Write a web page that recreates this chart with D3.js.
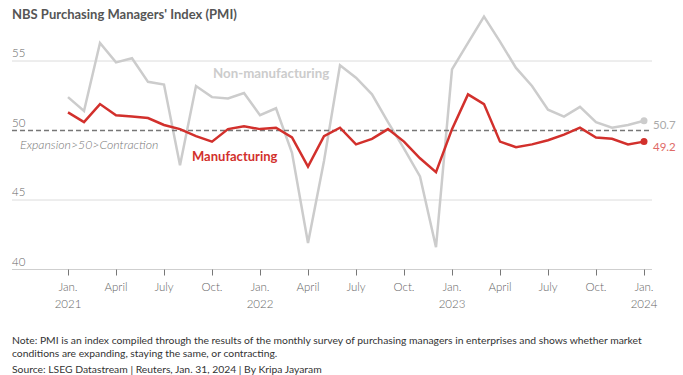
<!DOCTYPE html>
<html>
<head>
<meta charset="utf-8">
<script src="https://cdn.jsdelivr.net/npm/d3@7"></script>
<style>
  html, body { margin: 0; padding: 0; background: #fff; }
  svg { display: block; font-family: "Lato", "Noto Sans", sans-serif; }
</style>
</head>
<body>
<svg id="chart" width="683" height="375"></svg>
<script>
// ---- Data (monthly, Jan 2021 .. Jan 2024) ----
const months = [
  "2021-01","2021-02","2021-03","2021-04","2021-05","2021-06","2021-07","2021-08","2021-09","2021-10","2021-11","2021-12",
  "2022-01","2022-02","2022-03","2022-04","2022-05","2022-06","2022-07","2022-08","2022-09","2022-10","2022-11","2022-12",
  "2023-01","2023-02","2023-03","2023-04","2023-05","2023-06","2023-07","2023-08","2023-09","2023-10","2023-11","2023-12",
  "2024-01"
];
const manufacturing = [
  51.3,50.6,51.9,51.1,51.0,50.9,50.4,50.1,49.6,49.2,50.1,50.3,
  50.1,50.2,49.5,47.4,49.6,50.2,49.0,49.4,50.1,49.2,48.0,47.0,
  50.1,52.6,51.9,49.2,48.8,49.0,49.3,49.7,50.2,49.5,49.4,49.0,
  49.2
];
const nonManufacturing = [
  52.4,51.4,56.3,54.9,55.2,53.5,53.3,47.5,53.2,52.4,52.3,52.7,
  51.1,51.6,48.4,41.9,47.8,54.7,53.8,52.6,50.6,48.7,46.7,41.6,
  54.4,56.3,58.2,56.4,54.5,53.2,51.5,51.0,51.7,50.6,50.2,50.4,
  50.7
];
const yTicks = [40, 45, 50, 55];
const xTickIndex = [0,3,6,9,12,15,18,21,24,27,30,33,36];
const xTickMonth = ["Jan.","April","July","Oct.","Jan.","April","July","Oct.","Jan.","April","July","Oct.","Jan."];
const xTickYear  = ["2021","","","","2022","","","","2023","","","","2024"];

const title = "NBS Purchasing Managers' Index (PMI)";
const noteLines = [
  "Note: PMI is an index compiled through the results of the monthly survey of purchasing managers in enterprises and shows whether market",
  "conditions are expanding, staying the same, or contracting."
];
const sourceLine = "Source: LSEG Datastream | Reuters, Jan. 31, 2024 | By Kripa Jayaram";

// ---- Layout ----
const svg = d3.select("#chart");
const RED = "#d2302c", GREY = "#cccccc";
const gridLeft = 12, gridRight = 652;

const x = d3.scaleLinear().domain([0, 36]).range([68, 644]);
const y = d3.scaleLinear().domain([40, 55]).range([269.5, 61]);

// title
svg.append("text").attr("x", 12).attr("y", 19)
  .attr("font-size", 13).attr("font-weight", 700).attr("fill", "#555")
  .text(title);

// gridlines (not 50)
svg.append("g").selectAll("line").data(yTicks.filter(d => d !== 50)).join("line")
  .attr("x1", gridLeft).attr("x2", gridRight)
  .attr("y1", d => y(d)).attr("y2", d => y(d))
  .attr("stroke", d => d === 40 ? "#cfcfcf" : "#dcdcdc").attr("stroke-width", 1);

// y labels
svg.append("g").selectAll("text").data(yTicks).join("text")
  .attr("x", 12).attr("y", d => y(d) - 4)
  .attr("font-size", 11.5).attr("fill", "#666").attr("font-weight", 300)
  .text(d => d);

// x axis
const xAxis = d3.axisBottom(x).tickValues(xTickIndex).tickSize(6).tickFormat("");
const gx = svg.append("g").attr("transform", `translate(0,${y(40)})`).call(xAxis);
gx.select(".domain").remove();
gx.selectAll(".tick line").attr("stroke", "#777");
const tl = svg.append("g").selectAll("g").data(xTickIndex).join("g")
  .attr("transform", d => `translate(${x(d)},0)`);
tl.append("text").attr("y", 291).attr("text-anchor", "middle")
  .attr("font-size", 11.5).attr("fill", "#666").attr("font-weight", 300)
  .text((d, i) => xTickMonth[i]);
tl.append("text").attr("y", 308).attr("text-anchor", "middle")
  .attr("font-size", 11.5).attr("fill", "#666").attr("font-weight", 300)
  .text((d, i) => xTickYear[i]);

// lines
const line = d3.line().x((d, i) => x(i)).y(d => y(d));
svg.append("path").datum(nonManufacturing).attr("d", line)
  .attr("fill", "none").attr("stroke", GREY).attr("stroke-width", 2.5)
  .attr("stroke-linejoin", "miter");

// dashed 50 line
svg.append("line").attr("x1", gridLeft).attr("x2", gridRight)
  .attr("y1", y(50)).attr("y2", y(50))
  .attr("stroke", "#777").attr("stroke-width", 1.5).attr("stroke-dasharray", "5,3");

svg.append("path").datum(manufacturing).attr("d", line)
  .attr("fill", "none").attr("stroke", RED).attr("stroke-width", 2.5)
  .attr("stroke-linejoin", "miter");

// end dots
const last = manufacturing.length - 1;
svg.append("circle").attr("cx", x(last)).attr("cy", y(nonManufacturing[last])).attr("r", 3.5).attr("fill", GREY);
svg.append("circle").attr("cx", x(last)).attr("cy", y(manufacturing[last])).attr("r", 3.5).attr("fill", RED);
svg.append("text").attr("x", 653).attr("y", y(nonManufacturing[last]) + 8)
  .attr("font-size", 11.5).attr("fill", "#aaa").text(nonManufacturing[last].toFixed(1));
svg.append("text").attr("x", 653).attr("y", y(manufacturing[last]) + 9.5)
  .attr("font-size", 11.5).attr("fill", "#e06a66").text(manufacturing[last].toFixed(1));

// series labels
svg.append("text").attr("x", 213).attr("y", 78)
  .attr("font-size", 13.3).attr("font-weight", 700).attr("fill", "#cccccc").text("Non-manufacturing");
svg.append("text").attr("x", 192).attr("y", 161)
  .attr("font-size", 13).attr("font-weight", 700).attr("fill", RED).text("Manufacturing");
svg.append("text").attr("x", 20).attr("y", 149)
  .attr("font-size", 12.3).attr("font-style", "italic").attr("font-weight", 300).attr("fill", "#777")
  .text("Expansion>50>Contraction");

// notes
const notes = svg.append("g").attr("font-size", 10.35).attr("fill", "#333");
noteLines.forEach((t, i) => {
  notes.append("text").attr("x", 12).attr("y", 344 + i * 13).text(t);
});
notes.append("text").attr("x", 12).attr("y", 373).text(sourceLine);
</script>
</body>
</html>
